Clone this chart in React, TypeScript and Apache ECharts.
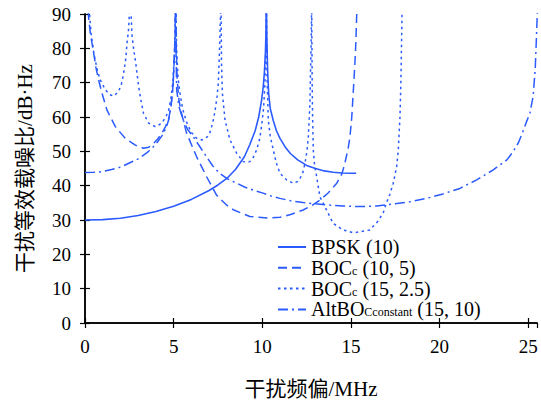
import React, { useEffect, useRef } from "react";
import * as echarts from "echarts";

const FONT = "'Liberation Serif', 'Times New Roman', 'Noto Sans CJK SC', serif";
const BLUE = "#2b5bff";

const xTitle = "干扰频偏/MHz";
const yTitle = "干扰等效载噪比/dB·Hz";

const seriesNames = ["BPSK (10)", "BOCc (10, 5)", "BOCc (15, 2.5)", "AltBOCconstant (15, 10)"];
const legendRich: Record<string, string> = {
  "BPSK (10)": "{t|BPSK (10)}",
  "BOCc (10, 5)": "{t|BOC}{s|c}{t| (10, 5)}",
  "BOCc (15, 2.5)": "{t|BOC}{s|c}{t| (15, 2.5)}",
  "AltBOCconstant (15, 10)": "{t|AltBO}{s|Cconstant}{t| (15, 10)}",
};

const bpsk: number[][] = [
  [0, 30], [1, 30.1], [2, 30.5], [3, 31.3], [4, 32.5], [5, 34], [6, 36], [7, 38.6], [7.5, 40.2],
  [8, 42.1], [8.5, 44.8], [9, 48.5], [9.3, 52], [9.6, 56], [9.8, 60], [9.95, 64.5], [10.05, 68.5],
  [10.12, 73], [10.18, 79], [10.21, 85], [10.23, 95], [10.26, 83], [10.3, 74], [10.36, 67],
  [10.45, 62.5], [10.62, 59], [10.8, 56], [11, 53.8], [11.3, 51.2], [11.6, 49.3], [12, 47.5],
  [12.5, 45.9], [13, 45], [13.5, 44.3], [14, 43.9], [14.5, 43.7], [15, 43.6], [15.3, 43.6],
];

const boc105: number[][] = [
  [0.15, 95], [0.2, 89.2], [0.3, 84.4], [0.49, 78.6], [0.62, 74.3], [0.77, 70.8], [0.96, 66.9],
  [1.24, 62], [1.71, 57.2], [2.27, 53.8], [2.84, 51.8], [3.3, 50.9], [3.6, 51.2], [3.87, 52.3],
  [4.1, 53.6], [4.34, 55.3], [4.55, 57.3], [4.72, 59.5], [4.85, 63], [4.95, 68], [5.03, 76],
  [5.08, 84], [5.115, 95], [5.15, 80], [5.2, 71], [5.3, 65], [5.4, 62], [5.73, 55.3], [6.3, 48.4],
  [6.86, 42.6], [7.43, 37.2], [8, 34.3], [8.36, 33], [9.3, 31], [10.3, 30.6], [11, 30.8],
  [11.6, 31.6], [12.3, 32.9], [12.8, 34.2], [13.25, 35.8], [13.7, 37.8], [14.2, 40.7], [14.5, 43.5],
  [14.66, 46.5], [14.85, 51], [14.95, 54.3], [15.05, 60], [15.13, 66.9], [15.22, 75], [15.28, 81.5],
  [15.33, 90], [15.35, 95],
];

const boc1525: number[][] = [
  [0.22, 95], [0.27, 89], [0.35, 84], [0.5, 78.5], [0.7, 73.5], [0.86, 70.8], [1.15, 67.9],
  [1.4, 66.5], [1.62, 66.1], [1.9, 67.5], [2.05, 69.5], [2.18, 72.7], [2.3, 77], [2.37, 81.5],
  [2.45, 85], [2.557, 95], [2.65, 84], [2.75, 79.5], [2.84, 76.6], [3.03, 68.8], [3.15, 65],
  [3.3, 61.1], [3.59, 58.2], [3.97, 57.2], [4.34, 58.2], [4.6, 60.5], [4.72, 62], [4.85, 65.5],
  [4.95, 70], [5.03, 77], [5.08, 84], [5.115, 95], [5.17, 79.5], [5.25, 71.5], [5.36, 66.9],
  [5.5, 62.5], [5.73, 58.5], [6, 55.5], [6.3, 53.8], [6.6, 53.3], [6.9, 54.2], [7.05, 55.5],
  [7.2, 58.2], [7.33, 61.5], [7.45, 66], [7.52, 69.8], [7.58, 78], [7.62, 85], [7.672, 95],
  [7.7, 76], [7.75, 67], [7.9, 59.1], [8.18, 53.3], [8.56, 49.4], [8.93, 47], [9.1, 46.8],
  [9.3, 47], [9.5, 48.3], [9.68, 50.4], [9.85, 53.5], [9.96, 57.2], [10.08, 63], [10.15, 69.8],
  [10.2, 80], [10.23, 95], [10.27, 72], [10.34, 59.1], [10.45, 54.5], [10.62, 50.4], [10.8, 46.5],
  [11, 43.6], [11.37, 41.7], [11.75, 40.7], [12, 41.2], [12.13, 42.1], [12.3, 44], [12.41, 46.5],
  [12.52, 50], [12.6, 54.3], [12.69, 64], [12.73, 75], [12.76, 82], [12.79, 95], [12.8, 82],
  [12.82, 68], [12.84, 60], [12.88, 50.4], [12.95, 46], [13.07, 42.6], [13.25, 36.8], [13.63, 32.9],
  [14, 29], [14.57, 27.1], [15.13, 26.3], [15.32, 26.4], [16.07, 27.1], [16.5, 29.5], [16.82, 32],
  [17, 34.9], [17.2, 37.5], [17.39, 40.7], [17.58, 45.5], [17.67, 50], [17.77, 60], [17.82, 70],
  [17.86, 82], [17.9, 95],
];

const altboc: number[][] = [
  [0, 43.8], [0.5, 43.9], [1, 44.1], [1.5, 44.7], [2, 45.4], [2.5, 46.6], [3, 47.8], [3.5, 49.6],
  [3.87, 51.4], [4.1, 52.8], [4.34, 54.5], [4.55, 56.5], [4.72, 59.1], [4.85, 63], [4.95, 68],
  [5, 72], [5.06, 80], [5.115, 95], [5.14, 78], [5.17, 68], [5.3, 63], [5.54, 59.1], [5.8, 56.3],
  [6.1, 54.3], [6.5, 51.2], [6.86, 48.4], [7.2, 45.8], [7.6, 43.6], [8, 42.1], [8.56, 40.7],
  [9, 39.6], [9.5, 38.7], [10, 37.9], [10.5, 37], [11, 36.3], [11.6, 35.6], [12.3, 35.1],
  [13, 34.7], [13.6, 34.4], [14.57, 34.1], [15.5, 33.9], [16.45, 34.1], [17.4, 34.7], [18.33, 35.3],
  [19.27, 36.3], [20.2, 37.6], [21.15, 39.2], [22.1, 41.7], [23.03, 44.6], [23.8, 47.5],
  [24.15, 49.9], [24.45, 52.5], [24.7, 55.7], [24.9, 58.5], [25.1, 61.1], [25.28, 66], [25.4, 74],
  [25.46, 82], [25.55, 95],
];

const xMin = 0;
const xMax = 25.5;
const xInterval = 5;
const yMin = 0;
const yMax = 90;
const yInterval = 10;

export default function App() {
  const ref = useRef<HTMLDivElement>(null);
  useEffect(() => {
    if (!ref.current) return;
    const chart = echarts.init(ref.current, null, { renderer: "svg" });
    const axisLine = { show: true, lineStyle: { color: "#000", width: 1.5 } };
    const axisTick = { show: true, inside: true, length: 5, lineStyle: { color: "#000", width: 1.2 } };
    const labelStyle = { color: "#000", fontSize: 19, fontFamily: FONT };
    const mk = (name: string, data: number[][], type: any, width = 1.5) => ({
      name,
      type: "line",
      data,
      showSymbol: false,
      symbol: "none",
      clip: true,
      xAxisIndex: 0,
      yAxisIndex: 0,
      lineStyle: { color: BLUE, width, type },
      itemStyle: { color: BLUE },
    });
    chart.setOption({
      animation: false,
      backgroundColor: "#fff",
      grid: { left: 85, right: 4, top: 14, bottom: 82, containLabel: false },
      xAxis: [
        {
          type: "value", min: xMin, max: xMax, interval: xInterval, position: "bottom",
          axisLine, axisTick, splitLine: { show: false },
          axisLabel: { ...labelStyle, margin: 14, showMaxLabel: false },
          name: xTitle, nameLocation: "middle", nameGap: 55,
          nameTextStyle: { color: "#000", fontSize: 21, fontFamily: FONT },
        },
        {
          type: "value", min: xMin, max: xMax, interval: xInterval, position: "top",
          axisLine, axisTick, splitLine: { show: false }, axisLabel: { show: false },
        },
      ],
      yAxis: [
        {
          type: "value", min: yMin, max: yMax, interval: yInterval, position: "left",
          axisLine, axisTick, splitLine: { show: false },
          axisLabel: { ...labelStyle, margin: 14 },
          name: yTitle, nameLocation: "middle", nameGap: 50,
          nameTextStyle: { color: "#000", fontSize: 21, fontFamily: FONT },
        },
        {
          type: "value", min: yMin, max: yMax, interval: yInterval, position: "right",
          axisLine, axisTick, splitLine: { show: false }, axisLabel: { show: false },
        },
      ],
      legend: {
        orient: "vertical",
        left: 277,
        top: 237,
        padding: 0,
        itemWidth: 28,
        itemHeight: 10,
        itemGap: 0.8,
        data: seriesNames,
        itemStyle: { color: "rgba(0,0,0,0)", borderWidth: 0, opacity: 0 },
        formatter: (n: string) => legendRich[n] || n,
        textStyle: {
          color: "#000",
          fontSize: 20,
          fontFamily: FONT,
          rich: {
            t: { fontSize: 20, fontFamily: FONT, color: "#000", lineHeight: 20 },
            s: {
              fontSize: 12, fontFamily: FONT, color: "#000", lineHeight: 11,
              padding: [6, 0, 0, 0], verticalAlign: "middle",
            },
          },
        },
      },
      series: [
        mk(seriesNames[0], bpsk, "solid", 1.6),
        mk(seriesNames[1], boc105, [9, 5]),
        mk(seriesNames[2], boc1525, [2.5, 3.5]),
        mk(seriesNames[3], altboc, [10, 4, 2, 4]),
      ],
    });
    return () => chart.dispose();
  }, []);
  return <div ref={ref} style={{ width: 541, height: 405, position: "absolute", left: 0, top: 0 }} />;
}
